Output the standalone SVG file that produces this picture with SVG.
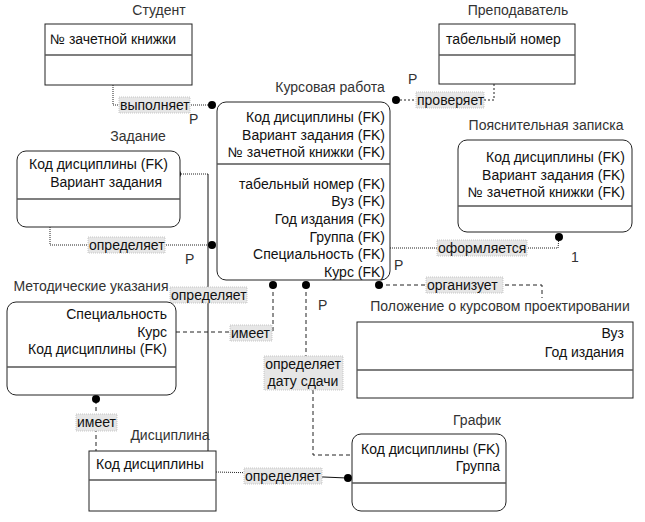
<svg xmlns="http://www.w3.org/2000/svg" width="645" height="522" viewBox="0 0 645 522">
<defs>
<style>
text{font-family:"Liberation Sans",Arial,sans-serif;fill:#111}
.title{font-size:14px;fill:#333}
.attr{font-size:14px}
.r{text-anchor:end}
.m{text-anchor:middle}
.box{fill:#fff;stroke:#222;stroke-width:1}
.div{stroke:#555;stroke-width:1.5;fill:none}
.lbl{fill:#e6e6e6;stroke:#bbb;stroke-width:0.8;stroke-dasharray:1 1}
.ltx{font-size:14px}
.dot{stroke:#222;stroke-width:1;stroke-dasharray:1 1;fill:none}
.dash{stroke:#222;stroke-width:1;stroke-dasharray:4 3;fill:none}
.sdash{stroke:#222;stroke-width:1;stroke-dasharray:2 2;fill:none}
.solid{stroke:#111;stroke-width:1;fill:none}
.end{fill:#000}
</style>
</defs>
<rect width="645" height="522" fill="#fff"/>

<g id="connectors">
  <!-- выполняет -->
  <polyline class="dot" points="113,85 113,105 212,105"/>
  <!-- проверяет -->
  <polyline class="sdash" points="494,84 494,100 396,100"/>
  <!-- Задание - определяет - Курсовая -->
  <polyline class="dot" points="50,227 50,245 212,245"/>
  <!-- Дисциплина - определяет - Задание -->
  <polyline class="dot" points="177,174 208,174"/>
  <line class="solid" x1="208" y1="174" x2="208" y2="451"/>
  <!-- оформляется -->
  <polyline class="dot" points="390,248 558,248 559,237"/>
  <!-- организует -->
  <polyline class="dash" points="379,285 542,285 542,298"/>
  <!-- имеет Метод - Курсовая -->
  <polyline class="dash" points="176,332 273,332 273,285"/>
  <!-- имеет Метод - Дисциплина -->
  <polyline class="dash" points="96,400 96,451"/>
  <!-- определяет дату сдачи -->
  <polyline class="dash" points="306,285 306,365"/>
  <polyline class="dash" points="313,390 313,455 350,455"/>
  <!-- Дисциплина - определяет - График -->
  <polyline class="dot" points="216,472 300,474"/>
  <polyline class="solid" points="300,476 347,478"/>

  <circle class="end" cx="212" cy="105" r="4"/>
  <circle class="end" cx="396" cy="100" r="4"/>
  <circle class="end" cx="212" cy="245" r="4"/>
  <circle class="end" cx="177" cy="174" r="4"/>
  <circle class="end" cx="559" cy="237" r="4"/>
  <circle class="end" cx="379" cy="285" r="4"/>
  <circle class="end" cx="273" cy="285" r="4"/>
  <circle class="end" cx="306" cy="285" r="4"/>
  <circle class="end" cx="96" cy="399" r="4"/>
  <circle class="end" cx="348" cy="478" r="4"/>

  <rect class="lbl" x="119" y="97" width="71" height="16"/>
  <text class="ltx" x="120" y="110">выполняет</text>
  <rect class="lbl" x="416" y="92" width="68" height="16"/>
  <text class="ltx" x="417" y="105">проверяет</text>
  <rect class="lbl" x="88" y="237" width="77" height="16"/>
  <text class="ltx" x="89" y="250">определяет</text>
  <rect class="lbl" x="170" y="287" width="77" height="16"/>
  <text class="ltx" x="171" y="300">определяет</text>
  <rect class="lbl" x="437" y="240" width="90" height="16"/>
  <text class="ltx" x="438" y="253">оформляется</text>
  <rect class="lbl" x="426" y="277" width="77" height="16"/>
  <text class="ltx" x="427" y="290">организует</text>
  <rect class="lbl" x="230" y="325" width="42" height="16"/>
  <text class="ltx" x="231" y="338">имеет</text>
  <rect class="lbl" x="76" y="414" width="41" height="17"/>
  <text class="ltx" x="77" y="427">имеет</text>
  <rect class="lbl" x="264" y="356" width="79" height="34"/>
  <text class="ltx m" x="303" y="369">определяет</text>
  <text class="ltx m" x="303" y="386">дату сдачи</text>
  <rect class="lbl" x="244" y="468" width="78" height="16"/>
  <text class="ltx" x="245" y="481">определяет</text>

  <text class="title" x="189" y="124">P</text>
  <text class="title" x="408" y="84">P</text>
  <text class="title" x="185" y="264">P</text>
  <text class="title" x="394" y="270">P</text>
  <text class="title" x="318" y="310">P</text>
  <text class="title" x="571" y="262">1</text>
</g>

<g id="student">
  <text class="title m" x="159" y="15">Студент</text>
  <rect class="box" x="45" y="24" width="147" height="61"/>
  <line class="div" x1="45" y1="55" x2="192" y2="55"/>
  <text class="attr" x="50" y="44">№ зачетной книжки</text>
</g>

<g id="prepodavatel">
  <text class="title m" x="518" y="15">Преподаватель</text>
  <rect class="box" x="439" y="24" width="136" height="60"/>
  <line class="div" x1="439" y1="55" x2="575" y2="55"/>
  <text class="attr" x="446" y="44">табельный номер</text>
</g>

<g id="kursovaya">
  <text class="title m" x="330" y="92">Курсовая работа</text>
  <rect class="box" x="217" y="102" width="173" height="178" rx="9"/>
  <line class="div" x1="217" y1="164" x2="390" y2="164"/>
  <text class="attr r" x="385" y="122">Код дисциплины (FK)</text>
  <text class="attr r" x="385" y="140">Вариант задания (FK)</text>
  <text class="attr r" x="385" y="157">№ зачетной книжки (FK)</text>
  <text class="attr r" x="385" y="189">табельный номер (FK)</text>
  <text class="attr r" x="385" y="206">Вуз (FK)</text>
  <text class="attr r" x="385" y="224">Год издания (FK)</text>
  <text class="attr r" x="385" y="242">Группа (FK)</text>
  <text class="attr r" x="385" y="259">Специальность (FK)</text>
  <text class="attr r" x="385" y="277">Курс (FK)</text>
</g>

<g id="poyasnitelnaya">
  <text class="title m" x="546" y="130">Пояснительная записка</text>
  <rect class="box" x="458" y="140" width="174" height="92" rx="9"/>
  <line class="div" x1="458" y1="206" x2="632" y2="206"/>
  <text class="attr r" x="625" y="162">Код дисциплины (FK)</text>
  <text class="attr r" x="625" y="180">Вариант задания (FK)</text>
  <text class="attr r" x="625" y="197">№ зачетной книжки (FK)</text>
</g>

<g id="zadanie">
  <text class="title m" x="138" y="141">Задание</text>
  <rect class="box" x="17" y="151" width="163" height="76" rx="9"/>
  <line class="div" x1="17" y1="199" x2="180" y2="199"/>
  <text class="attr r" x="168" y="169">Код дисциплины (FK)</text>
  <text class="attr r" x="162" y="187">Вариант задания</text>
</g>

<g id="metodicheskie">
  <text class="title m" x="91" y="291">Методические указания</text>
  <rect class="box" x="7" y="302" width="169" height="93" rx="9"/>
  <line class="div" x1="7" y1="367" x2="176" y2="367"/>
  <text class="attr r" x="167" y="319">Специальность</text>
  <text class="attr r" x="167" y="337">Курс</text>
  <text class="attr r" x="167" y="354">Код дисциплины (FK)</text>
</g>

<g id="polozhenie">
  <text class="title m" x="500" y="311">Положение о курсовом проектировании</text>
  <rect class="box" x="357" y="322" width="276" height="76"/>
  <line class="div" x1="357" y1="370" x2="633" y2="370"/>
  <text class="attr r" x="624" y="338">Вуз</text>
  <text class="attr r" x="624" y="357">Год издания</text>
</g>

<g id="distsiplina">
  <text class="title m" x="170" y="440">Дисциплина</text>
  <rect class="box" x="89" y="451" width="127" height="60"/>
  <line class="div" x1="89" y1="480" x2="216" y2="480"/>
  <text class="attr" x="96" y="469">Код дисциплины</text>
</g>

<g id="grafik">
  <text class="title m" x="477" y="425">График</text>
  <rect class="box" x="352" y="434" width="154" height="77" rx="9"/>
  <line class="div" x1="352" y1="483" x2="506" y2="483"/>
  <text class="attr r" x="500" y="454">Код дисциплины (FK)</text>
  <text class="attr r" x="500" y="471">Группа</text>
</g>
</svg>
